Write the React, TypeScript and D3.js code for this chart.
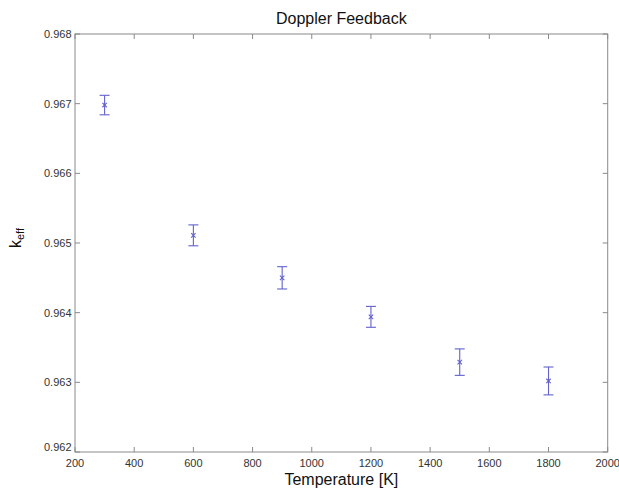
import React from "react";
import * as d3 from "d3";

const temperatures = [300, 600, 900, 1200, 1500, 1800];
const keff = [0.96698, 0.96511, 0.9645, 0.96394, 0.96329, 0.96302];
const keffErr = [0.00014, 0.00015, 0.00016, 0.00015, 0.00019, 0.0002];
const xTicks = [200, 400, 600, 800, 1000, 1200, 1400, 1600, 1800, 2000];
const yTicks = [0.962, 0.963, 0.964, 0.965, 0.966, 0.967, 0.968];
const title = "Doppler Feedback";
const xLabel = "Temperature [K]";

const W = 619;
const H = 489;
const M = { left: 75, right: 607.7, top: 34, bottom: 452 };
const FONT = "'Liberation Sans', Arial, Helvetica, sans-serif";
const AXIS = "#8a8a8a";
const MARK = "#6262cc";

export default function App() {
  const x = d3.scaleLinear().domain([200, 2000]).range([M.left, M.right]);
  const y = d3.scaleLinear().domain([0.962, 0.968]).range([M.bottom, M.top]);
  const tick = 5;
  const cap = 5;
  const mk = 2.2;

  return (
    <svg
      width={W}
      height={H}
      style={{ position: "absolute", left: 0, top: 0, background: "#fff" }}
      fontFamily={FONT}
    >
      <rect x={0} y={0} width={W} height={H} fill="#fff" />
      {/* frame */}
      <rect
        x={M.left}
        y={M.top}
        width={M.right - M.left}
        height={M.bottom - M.top}
        fill="none"
        stroke={AXIS}
        strokeWidth={1}
      />
      {/* x ticks */}
      {xTicks.map((t) => (
        <g key={"x" + t}>
          <line x1={x(t)} x2={x(t)} y1={M.bottom} y2={M.bottom - tick} stroke={AXIS} />
          <line x1={x(t)} x2={x(t)} y1={M.top} y2={M.top + tick} stroke={AXIS} />
          <text x={x(t)} y={466.5} fontSize={11} fill="#333" textAnchor="middle">
            {t}
          </text>
        </g>
      ))}
      {/* y ticks */}
      {yTicks.map((t) => (
        <g key={"y" + t}>
          <line x1={M.left} x2={M.left + tick} y1={y(t)} y2={y(t)} stroke={AXIS} />
          <line x1={M.right} x2={M.right - tick} y1={y(t)} y2={y(t)} stroke={AXIS} />
          <text
            x={71.5}
            y={y(t) + (t === 0.962 ? -1 : 4)}
            fontSize={11}
            fill="#333"
            textAnchor="end"
          >
            {d3.format(".3f")(t)}
          </text>
        </g>
      ))}
      {/* error bars */}
      {temperatures.map((t, i) => {
        const cx = x(t);
        const cy = y(keff[i]);
        const yt = y(keff[i] + keffErr[i]);
        const yb = y(keff[i] - keffErr[i]);
        return (
          <g key={"e" + t} stroke={MARK} strokeWidth={1.1} fill="none">
            <line x1={cx} x2={cx} y1={yt} y2={yb} />
            <line x1={cx - cap} x2={cx + cap} y1={yt} y2={yt} />
            <line x1={cx - cap} x2={cx + cap} y1={yb} y2={yb} />
            <line x1={cx - mk} x2={cx + mk} y1={cy - mk} y2={cy + mk} />
            <line x1={cx - mk} x2={cx + mk} y1={cy + mk} y2={cy - mk} />
          </g>
        );
      })}
      {/* title */}
      <text x={(M.left + M.right) / 2} y={24} fontSize={16} fill="#111" textAnchor="middle">
        {title}
      </text>
      {/* x label */}
      <text x={(M.left + M.right) / 2} y={485} fontSize={16} fill="#111" textAnchor="middle">
        {xLabel}
      </text>
      {/* y label */}
      <text transform="translate(20.5,248) rotate(-90)" fontSize={16} fill="#111" textAnchor="start">
        k
        <tspan fontSize={11} dy={3}>
          eff
        </tspan>
      </text>
    </svg>
  );
}
